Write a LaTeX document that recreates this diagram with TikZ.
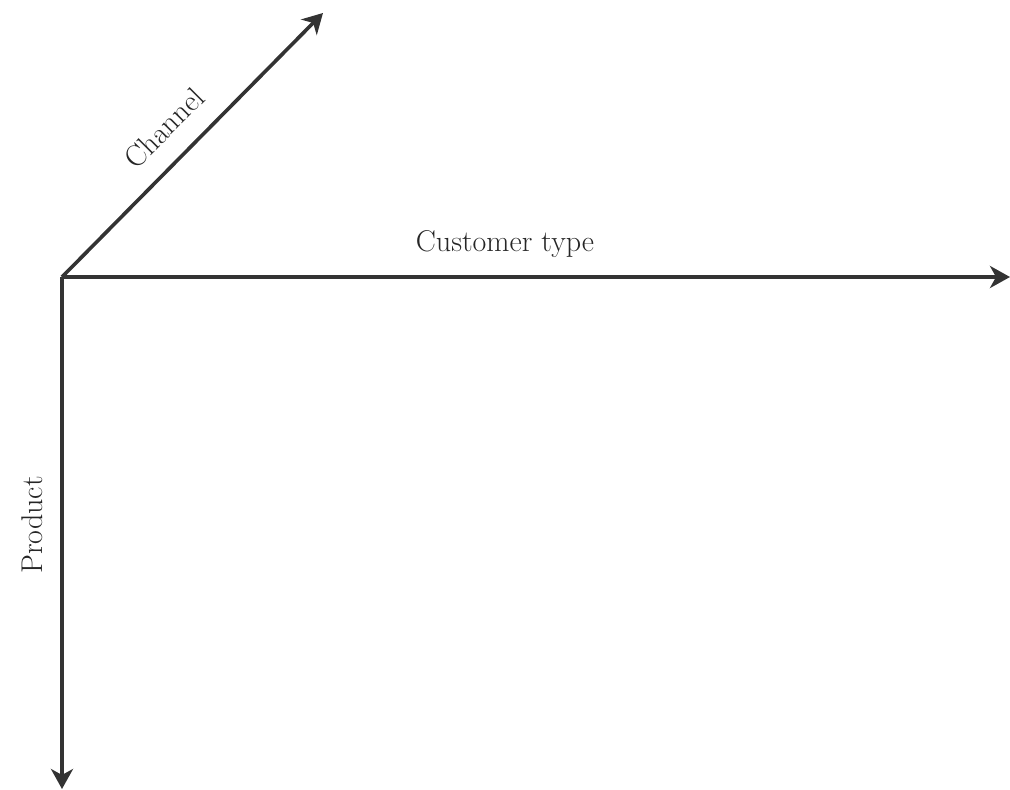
\documentclass[tikz,border=0pt]{standalone}
\usetikzlibrary{arrows.meta}
\begin{document}
\begin{tikzpicture}[x=0.5pt,y=-0.5pt,
  axis/.style={line width=1.8pt, draw=black!80, -{Stealth[length=10pt,width=11pt,inset=3pt]}},
  lbl/.style={text=black!85, font=\fontsize{15}{18}\selectfont, inner sep=0pt}]
\useasboundingbox (0,0) rectangle (1010,790);
\coordinate (O) at (62,277);
\coordinate (C) at (323,13);
\coordinate (T) at (1010,277);
\coordinate (P) at (62,789);
\draw[axis] (O) -- (C);
\draw[axis] (O) -- (T);
\draw[axis] (O) -- (P);
\node[lbl, rotate=45] (ch) at (164,128) {Channel};
\node[lbl, anchor=base] (ct) at (505,252) {Customer type};
\node[lbl, rotate=90, anchor=base] (pr) at (42,525) {Product};
\end{tikzpicture}
\end{document}
